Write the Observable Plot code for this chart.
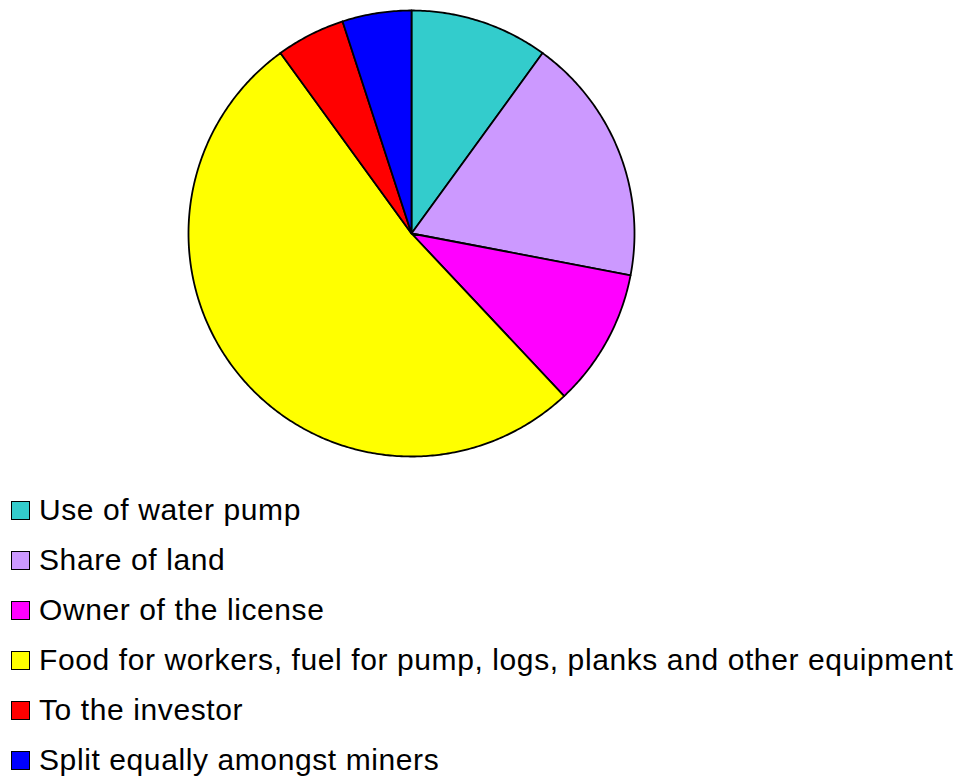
<!DOCTYPE html>
<html>
<head>
<meta charset="utf-8">
<script src="https://cdn.jsdelivr.net/npm/d3@7"></script>
<script src="https://cdn.jsdelivr.net/npm/@observablehq/plot@0.6"></script>
<style>
  body { margin: 0; background: #fff; font-family: Arial, "Liberation Sans", sans-serif; }
  #chart svg { display: block; }
  #legend { margin-top: 15px; }
  .row { display: flex; align-items: center; height: 50px; padding-left: 11px; font-size: 30px; letter-spacing: 0.6px; color: #000; white-space: nowrap; }
  .sw { width: 17px; height: 17px; border: 1.5px solid #000; margin-right: 9px; box-sizing: content-box; flex: none; }
</style>
</head>
<body>
<div id="chart"></div>
<div id="legend"></div>
<script>
const categories = [
  "Use of water pump",
  "Share of land",
  "Owner of the license",
  "Food for workers, fuel for pump, logs, planks and other equipment",
  "To the investor",
  "Split equally amongst miners"
];
const values = [10, 18, 10, 52, 5, 5];
const colors = ["#33CCCC", "#CC99FF", "#FF00FF", "#FFFF00", "#FF0000", "#0000FF"];

const arcs = d3.pie().sort(null).value(d => d)(values);
const pts = [];
arcs.forEach((a, i) => {
  const cat = categories[i];
  pts.push({cat, x: 0, y: 0});
  const n = Math.max(2, Math.ceil((a.endAngle - a.startAngle) / 0.01));
  for (let k = 0; k <= n; k++) {
    const t = a.startAngle + (a.endAngle - a.startAngle) * k / n;
    pts.push({cat, x: Math.sin(t), y: Math.cos(t)});
  }
  pts.push({cat, x: 0, y: 0});
});

const chart = Plot.plot({
  width: 962,
  height: 470,
  margin: 0,
  x: {domain: [-1, 1], range: [188, 634], axis: null},
  y: {domain: [-1, 1], range: [456, 10], axis: null},
  color: {domain: categories, range: colors},
  marks: [
    Plot.line(pts, {x: "x", y: "y", z: "cat", fill: "cat", stroke: "#000", strokeWidth: 1.8, strokeLinejoin: "round", curve: "linear"})
  ]
});
document.getElementById("chart").appendChild(chart);

const legend = document.getElementById("legend");
categories.forEach((c, i) => {
  const row = document.createElement("div");
  row.className = "row";
  const sw = document.createElement("div");
  sw.className = "sw";
  sw.style.background = colors[i];
  const tx = document.createElement("span");
  tx.textContent = c;
  row.appendChild(sw);
  row.appendChild(tx);
  legend.appendChild(row);
});
</script>
</body>
</html>
